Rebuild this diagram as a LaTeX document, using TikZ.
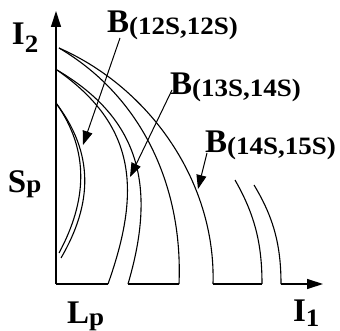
\documentclass[tikz,border=0pt]{standalone}
\usepackage{fontspec}
\setmainfont{Liberation Serif}
\newfontfamily\subfam[FakeStretch=1.08]{Liberation Serif}
\usetikzlibrary{arrows.meta}
\newcommand\bigfnt{\fontsize{33}{36}\selectfont\bfseries}
\newcommand\subfnt{\subfam\fontsize{25}{28}\selectfont\bfseries}
\newcommand\lowsub[2]{\raisebox{-#1}{\subfnt #2}}
\begin{document}
\begin{tikzpicture}[x=1pt,y=-1pt,
  curve/.style={line width=1.1pt},
  axisline/.style={line width=1.3pt},
  axisarrow/.style={line width=1.3pt,-{Triangle[length=16pt,width=10pt]}},
  pointer/.style={line width=1pt,-{Triangle[length=14pt,width=10pt]}},
  lbl/.style={anchor=base west,inner sep=0pt,outer sep=0pt,font=\bigfnt}]
\useasboundingbox (0,0) rectangle (340,331);
% axes
\coordinate (O) at (56,284);
\coordinate (Ytip) at (56,11);
\coordinate (Xtip) at (323,284);
\coordinate (a1) at (108,284);
\coordinate (b1) at (128,284);
\coordinate (a2) at (179,284);
\coordinate (b2) at (213,284);
\coordinate (a3) at (262,284);
\coordinate (b3) at (281,284);
\draw[axisarrow] (O) -- (Ytip);
\draw[axisline] (O) -- (a1);
\draw[axisline] (b1) -- (a2);
\draw[axisline] (b2) -- (a3);
\draw[axisarrow] (b3) -- (Xtip);
% curve start points
\coordinate (t1) at (56,103);
\coordinate (t2) at (57,70);
\coordinate (t3) at (59,48);
\coordinate (e1a) at (59,253);
\coordinate (e1b) at (61,258);
\coordinate (s4a) at (235,180);
\coordinate (s4b) at (254,185);
% group 1
\draw[curve] (t1) .. controls +(34,48) and +(28,-52) .. (e1a);
\draw[curve] (t1) .. controls +(38,50) and +(32,-55) .. (e1b);
% group 2
\draw[curve] (t2) .. controls +(80,56) and +(33,-93) .. (a1);
\draw[curve] (t2) .. controls +(85,50) and +(28,-95) .. (b1);
% group 3
\draw[curve] (t3) .. controls +(85,50) and +(4,-95) .. (a2);
\draw[curve] (t3) .. controls +(93,41) and +(3,-100) .. (b2);
% group 4
\draw[curve] (s4a) .. controls +(20,35) and +(0,-40) .. (a3);
\draw[curve] (s4b) .. controls +(20,33) and +(0,-38) .. (b3);
% labels
\node[lbl] (i2) at (12,45) {I\lowsub{8pt}{2}};
\node[lbl] (b12) at (107,33) {B\lowsub{2pt}{(12S,12S)}};
\node[lbl] (b13) at (170,95) {B\lowsub{2pt}{(13S,14S)}};
\node[lbl] (b14) at (205,153) {B\lowsub{2pt}{(14S,15S)}};
\node[lbl] (sp) at (8,193) {S\lowsub{0pt}{p}};
\node[lbl] (lp) at (67,323) {L\lowsub{2pt}{p}};
\node[lbl] (i1) at (293,321) {I\lowsub{5pt}{1}};
% pointers
\coordinate (p12) at (120,38);
\coordinate (q12) at (83,145);
\coordinate (p13) at (172,90);
\coordinate (q13) at (130,177);
\coordinate (p14) at (207,153);
\coordinate (q14) at (198,189);
\draw[pointer] (p12) -- (q12);
\draw[pointer] (p13) -- (q13);
\draw[pointer] (p14) -- (q14);
\end{tikzpicture}
\end{document}
